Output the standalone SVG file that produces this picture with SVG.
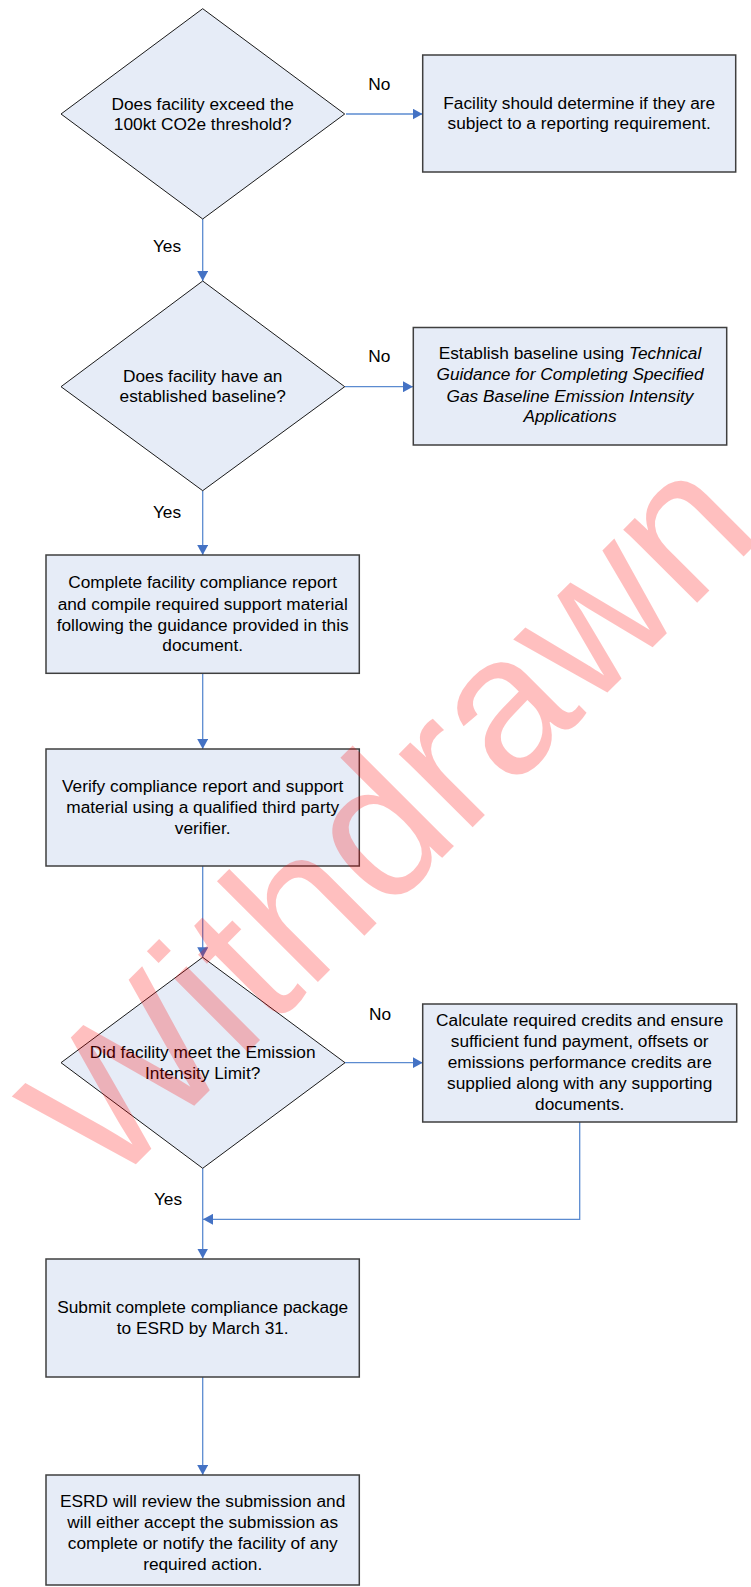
<svg xmlns="http://www.w3.org/2000/svg" width="751" height="1587" viewBox="0 0 751 1587">
<style>
.box{fill:#E6ECF7;stroke:#3F3F3F;stroke-width:1.5}
.dia{fill:#E6ECF7;stroke:#1A1A1A;stroke-width:1}
.t{font-family:"Liberation Sans",Arial,sans-serif;font-size:17.3px;fill:#000;text-anchor:middle}
.i{font-style:italic}
.con{fill:none;stroke:#5B8BD0;stroke-width:1.3}
.wm{font-family:"Liberation Sans",Arial,sans-serif;font-size:197px;fill:#FF0000;fill-opacity:0.25}
</style>
<defs>
<marker id="ah" markerUnits="userSpaceOnUse" markerWidth="11" markerHeight="11" refX="10" refY="5.5" orient="auto">
<path d="M0,0 L10,5.5 L0,11 z" fill="#4472C4"/>
</marker>
</defs>
<rect width="751" height="1587" fill="#FFFFFF"/>
<g id="connectors">
<path class="con" d="M346,114 H422.5" marker-end="url(#ah)"/>
<path class="con" d="M202.7,219 V281" marker-end="url(#ah)"/>
<path class="con" d="M344.7,386.7 H413" marker-end="url(#ah)"/>
<path class="con" d="M202.7,490.7 V555" marker-end="url(#ah)"/>
<path class="con" d="M202.7,673.3 V749" marker-end="url(#ah)"/>
<path class="con" d="M202.7,866 V957.3" marker-end="url(#ah)"/>
<path class="con" d="M345,1062.7 H422.7" marker-end="url(#ah)"/>
<path class="con" d="M579.7,1122 V1219.3 H203" marker-end="url(#ah)"/>
<path class="con" d="M202.7,1168.3 V1258.5" marker-end="url(#ah)"/>
<path class="con" d="M202.7,1377 V1475" marker-end="url(#ah)"/>
<text class="t" x="379.3" y="90">No</text>
<text class="t" x="167" y="252">Yes</text>
<text class="t" x="379.3" y="362">No</text>
<text class="t" x="167" y="518">Yes</text>
<text class="t" x="380" y="1020">No</text>
<text class="t" x="168" y="1205">Yes</text>
</g>
<g id="d1">
<polygon class="dia" points="202.7,8.7 344.7,114 202.7,219 61,114"/>
<text class="t" x="202.7" y="109.5">Does facility exceed the</text>
<text class="t" x="202.7" y="130">100kt CO2e threshold?</text>
</g>
<g id="b1">
<rect class="box" x="422.7" y="55" width="313" height="117"/>
<text class="t" x="579.2" y="108.5">Facility should determine if they are</text>
<text class="t" x="579.2" y="129">subject to a reporting requirement.</text>
</g>
<g id="d2">
<polygon class="dia" points="202.7,281 344.7,386.7 202.7,490.7 61,386.7"/>
<text class="t" x="202.7" y="381.5">Does facility have an</text>
<text class="t" x="202.7" y="402">established baseline?</text>
</g>
<g id="b2">
<rect class="box" x="413.3" y="327.5" width="313.4" height="117.5"/>
<text class="t" x="570" y="359">Establish baseline using <tspan class="i">Technical</tspan></text>
<text class="t i" x="570" y="380">Guidance for Completing Specified</text>
<text class="t i" x="570" y="401.5">Gas Baseline Emission Intensity</text>
<text class="t i" x="570" y="422">Applications</text>
</g>
<g id="b3">
<rect class="box" x="46" y="555" width="313.3" height="118.3"/>
<text class="t" x="202.7" y="588">Complete facility compliance report</text>
<text class="t" x="202.7" y="609.5">and compile required support material</text>
<text class="t" x="202.7" y="630.5">following the guidance provided in this</text>
<text class="t" x="202.7" y="651">document.</text>
</g>
<g id="b4">
<rect class="box" x="46" y="749" width="313.3" height="117"/>
<text class="t" x="202.7" y="791.5">Verify compliance report and support</text>
<text class="t" x="202.7" y="812.5">material using a qualified third party</text>
<text class="t" x="202.7" y="833.5">verifier.</text>
</g>
<g id="d3">
<polygon class="dia" points="202.7,957.3 345,1062.7 202.7,1168.3 61,1062.7"/>
<text class="t" x="202.7" y="1058">Did facility meet the Emission</text>
<text class="t" x="202.7" y="1079">Intensity Limit?</text>
</g>
<g id="b5">
<rect class="box" x="422.7" y="1004" width="314" height="118"/>
<text class="t" x="579.7" y="1026">Calculate required credits and ensure</text>
<text class="t" x="579.7" y="1047">sufficient fund payment, offsets or</text>
<text class="t" x="579.7" y="1068">emissions performance credits are</text>
<text class="t" x="579.7" y="1089">supplied along with any supporting</text>
<text class="t" x="579.7" y="1110">documents.</text>
</g>
<g id="b6">
<rect class="box" x="46" y="1259" width="313.3" height="118"/>
<text class="t" x="202.7" y="1312.5">Submit complete compliance package</text>
<text class="t" x="202.7" y="1333.5">to ESRD by March 31.</text>
</g>
<g id="b7">
<rect class="box" x="46" y="1475" width="313.3" height="110"/>
<text class="t" x="202.7" y="1507">ESRD will review the submission and</text>
<text class="t" x="202.7" y="1528">will either accept the submission as</text>
<text class="t" x="202.7" y="1549">complete or notify the facility of any</text>
<text class="t" x="202.7" y="1569.5">required action.</text>
</g>
<g id="watermark">
<text class="wm" x="107" y="1193" transform="rotate(-45 107 1193)">Withdrawn</text>
</g>
</svg>
